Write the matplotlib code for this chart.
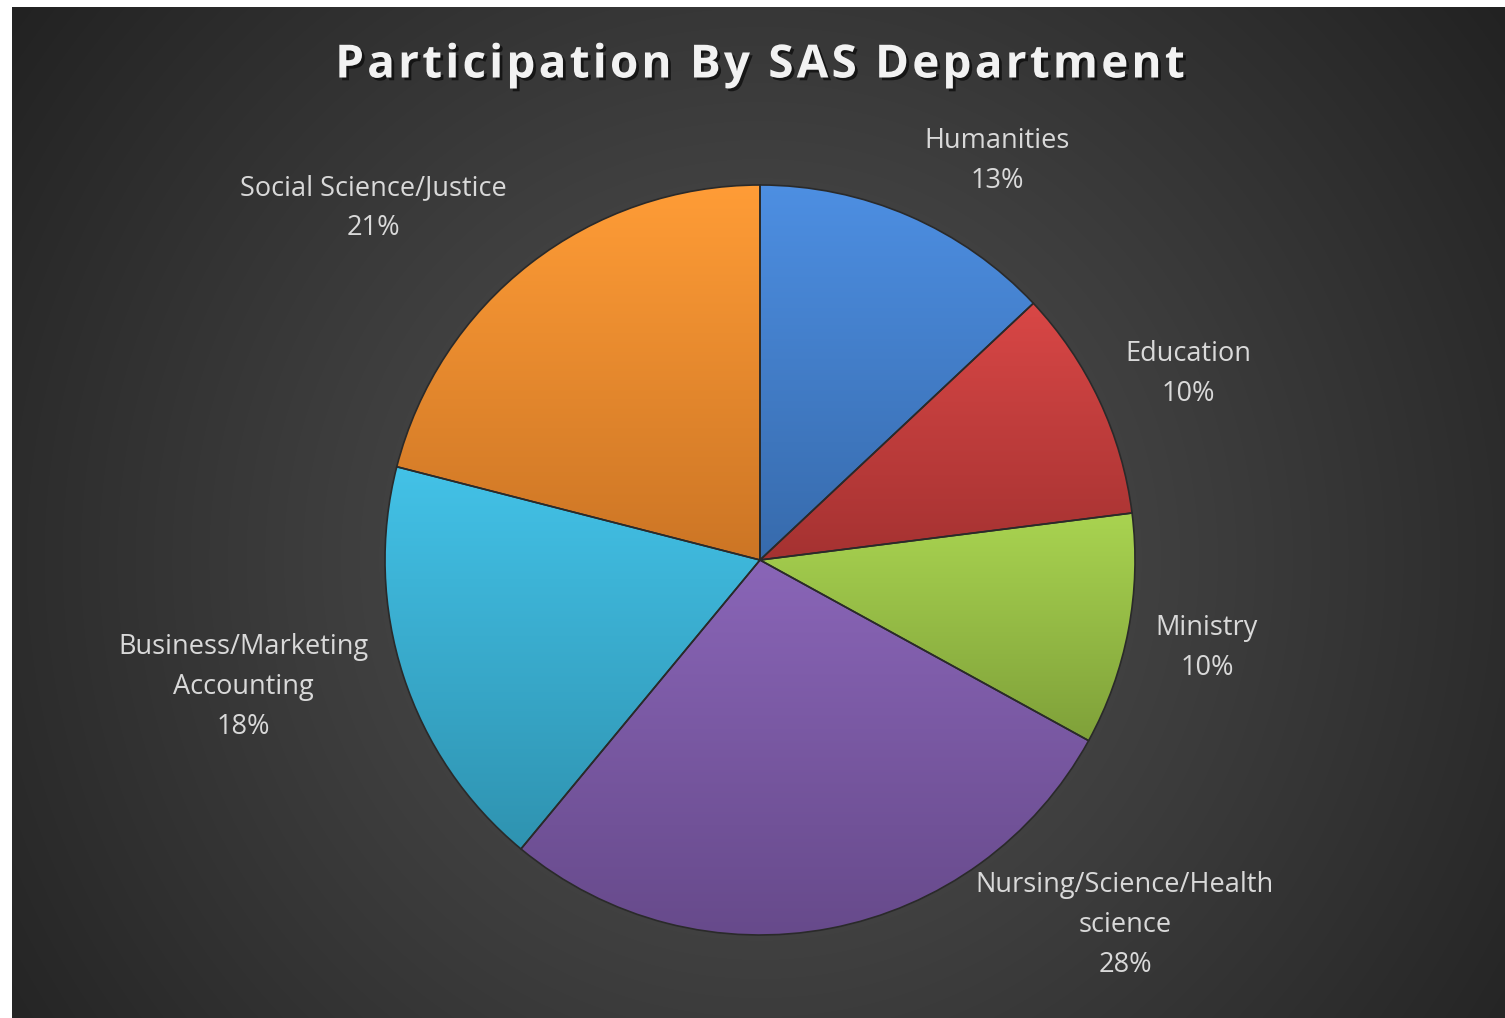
import numpy as np
import matplotlib
matplotlib.use("Agg")
import matplotlib.pyplot as plt
import matplotlib.patheffects as pe
from matplotlib.colors import to_rgb

# data
departments = ["Humanities", "Education", "Ministry",
               "Nursing/Science/Health\nscience", "Business/Marketing\nAccounting",
               "Social Science/Justice"]
shares = [13, 10, 10, 28, 18, 21]
colors = ["#4382d2", "#c93d3c", "#9bc446", "#7d5aa9", "#39b3d7", "#f98f2d"]
title = "Participation By SAS Department"

# label anchor points (pixels from top-left of image)
label_pos = [(997, 161), (1188, 374), (1207, 648), (1125, 925), (243, 687), (373, 208)]

W, H = 1505, 1018
fig = plt.figure(figsize=(W / 100, H / 100), dpi=100)
fig.patch.set_facecolor("white")
ax = fig.add_axes([0, 0, 1, 1])
ax.set_axis_off()

cx, cy, r = 760, H - 560, 375

# radial background
gx, gy = np.meshgrid(np.arange(12, W), np.arange(0, H - 7))
d = np.hypot(gx - cx, gy - cy)
lev = np.clip(0x52 - (0x52 - 0x1e) * (d / 1000.0) ** 1.1, 0x1e, 0x52) / 255.0
bg = np.dstack([lev, lev, lev])
ax.imshow(bg, extent=(12, W, 0, H - 7), origin="lower", zorder=0, aspect="auto")

wedges, _ = ax.pie(shares, colors=colors, startangle=90, counterclock=False,
                   center=(cx, cy), radius=r,
                   wedgeprops=dict(linewidth=1.2, edgecolor="#2a2a2a"))

# vertical gradient fill per slice (lighter on top)
for w, c in zip(wedges, colors):
    v = w.get_path().vertices
    x0, x1 = v[:, 0].min(), v[:, 0].max()
    y0, y1 = v[:, 1].min(), v[:, 1].max()
    base = np.array(to_rgb(c))
    top = np.clip(base * 1.04 + 0.03, 0, 1)
    bot = base * 0.82
    t = np.linspace(0, 1, 200)[:, None]
    grad = (bot * (1 - t) + top * t)[:, None, :]
    im = ax.imshow(grad, extent=(x0, x1, y0, y1), origin="lower",
                   aspect="auto", zorder=2)
    im.set_clip_path(w)
    w.set_facecolor("none")
    w.set_zorder(3)

for name, pct, (px, py) in zip(departments, shares, label_pos):
    ax.text(px, H - py, f"{name}\n{pct}%", ha="center", va="center",
            color="#d9d9d9", fontsize=19.5, family="Open Sans",
            linespacing=1.58, zorder=5)

ax.set_xlim(0, W)
ax.set_ylim(0, H)

# title with letter spacing
tprops = dict(color="#f2f2f2", fontsize=33, fontweight="bold", family="Open Sans")
renderer = fig.canvas.get_renderer()

def text_w(s):
    t = ax.text(0, 0, s, **tprops)
    w = t.get_window_extent(renderer).width
    t.remove()
    return w

gap = 3.2
bar = text_w("|")
total = text_w(title) + gap * (len(title) - 1)
x_start = cx - total / 2
shadow = [pe.withSimplePatchShadow(offset=(2, -2), shadow_rgbFace="black", alpha=0.6)]
for i, ch in enumerate(title):
    if ch == " ":
        continue
    xi = x_start + text_w(title[:i] + "|") - bar + i * gap
    ax.text(xi, H - 65, ch, ha="left", va="center", zorder=5,
            path_effects=shadow, **tprops)

fig.savefig("out.png", dpi=100, facecolor=fig.get_facecolor())
